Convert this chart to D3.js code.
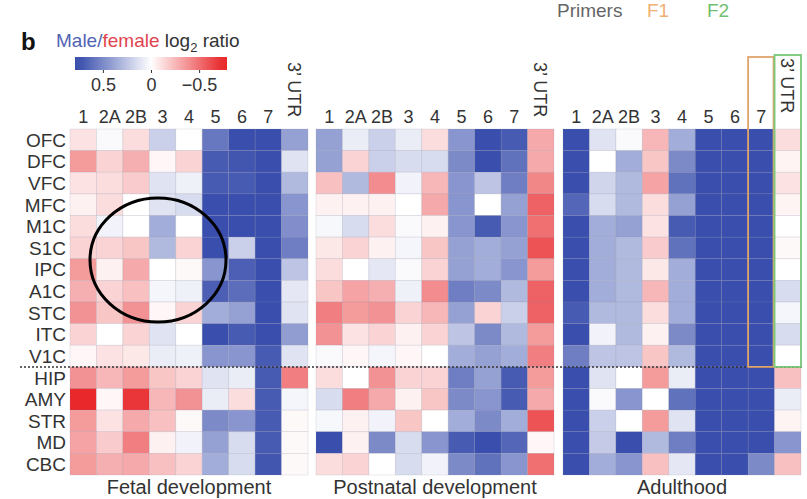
<!DOCTYPE html>
<html>
<head>
<meta charset="utf-8">
<script src="https://cdn.jsdelivr.net/npm/d3@7"></script>
<style>
  body { margin: 0; background: #fff; }
  svg { display: block; font-family: "Liberation Sans", Arial, sans-serif; }
  text { fill: #333; }
</style>
</head>
<body>
<svg id="chart"></svg>
<script>
// data: male/female log2 ratio, rows = regions, columns = exons
const regions = ["OFC", "DFC", "VFC", "MFC", "M1C", "S1C", "IPC", "A1C", "STC", "ITC", "V1C", "HIP", "AMY", "STR", "MD", "CBC"]
const columns = ["1", "2A", "2B", "3", "4", "5", "6", "7", "3’ UTR"]
const periods = ["Fetal development", "Postnatal development", "Adulthood"]

const fetal = [
  [-0.10, 0.02, -0.12, 0.20, 0.00, 0.58, 0.75, 0.80, 0.40],
  [-0.35, -0.15, -0.28, -0.03, -0.15, 0.70, 0.72, 0.80, 0.12],
  [-0.10, -0.12, -0.18, 0.12, 0.06, 0.70, 0.70, 0.80, 0.30],
  [-0.05, -0.12, 0.00, 0.12, 0.15, 0.75, 0.75, 0.80, 0.45],
  [-0.12, 0.05, 0.00, 0.35, 0.00, 0.75, 0.75, 0.80, 0.48],
  [-0.15, -0.15, -0.20, 0.30, -0.15, 0.80, 0.20, 0.80, 0.55],
  [-0.35, -0.05, -0.30, 0.00, -0.02, 0.45, 0.68, 0.75, 0.25],
  [-0.28, -0.15, -0.22, 0.04, 0.06, 0.68, 0.62, 0.75, 0.10],
  [-0.38, -0.20, -0.38, -0.03, -0.15, 0.35, 0.40, 0.75, 0.12],
  [-0.15, 0.00, -0.15, 0.12, 0.00, 0.75, 0.70, 0.75, 0.42],
  [-0.03, -0.10, -0.08, 0.08, 0.06, 0.45, 0.45, 0.70, 0.12],
  [-0.38, -0.25, -0.35, -0.20, -0.15, 0.12, 0.08, 0.70, -0.45],
  [-0.75, -0.03, -0.70, -0.25, -0.38, 0.08, -0.12, 0.70, 0.04],
  [-0.35, -0.10, -0.30, -0.22, -0.02, 0.50, 0.45, 0.70, -0.02],
  [-0.32, -0.18, -0.45, -0.05, 0.05, 0.40, 0.15, 0.70, -0.02],
  [-0.35, -0.28, -0.30, -0.22, -0.15, 0.35, 0.15, 0.72, -0.02]
]

const postnatal = [
  [0.40, 0.08, 0.20, 0.08, -0.12, 0.45, 0.75, 0.70, -0.30],
  [0.40, -0.15, 0.20, 0.15, 0.15, 0.50, 0.75, 0.60, -0.30],
  [-0.22, 0.30, -0.40, 0.05, -0.25, 0.45, 0.25, 0.55, -0.42],
  [-0.05, -0.05, -0.05, 0.00, -0.30, 0.45, 0.00, 0.40, -0.55],
  [0.03, 0.15, -0.12, 0.02, -0.05, 0.45, 0.70, 0.45, -0.50],
  [-0.08, -0.15, -0.05, 0.04, -0.20, 0.40, 0.35, 0.40, -0.60],
  [-0.12, 0.00, 0.10, 0.02, -0.15, 0.40, 0.35, 0.45, -0.35],
  [-0.20, -0.32, -0.28, 0.06, -0.40, 0.55, 0.50, 0.30, -0.55],
  [-0.45, -0.35, -0.38, -0.15, -0.25, 0.40, -0.15, 0.20, -0.55],
  [-0.38, -0.10, -0.15, -0.05, -0.15, 0.25, 0.50, 0.30, -0.35],
  [0.02, -0.03, 0.04, -0.03, 0.00, 0.35, 0.40, 0.35, -0.45],
  [-0.12, 0.00, -0.38, -0.15, -0.15, 0.55, 0.40, 0.70, -0.35],
  [0.15, -0.45, -0.30, -0.05, -0.20, 0.50, 0.45, 0.70, -0.30],
  [0.03, -0.05, 0.05, -0.20, 0.00, 0.35, 0.50, 0.35, -0.60],
  [0.75, -0.05, 0.50, 0.15, 0.45, 0.70, 0.75, 0.65, -0.03],
  [-0.12, -0.15, 0.00, 0.15, 0.05, 0.50, 0.60, 0.45, -0.50]
]

const adult = [
  [0.75, 0.12, 0.02, -0.25, 0.35, 0.80, 0.80, 0.80, -0.12],
  [0.75, 0.00, 0.35, -0.20, 0.50, 0.80, 0.80, 0.80, -0.04],
  [0.75, 0.18, 0.30, -0.32, 0.60, 0.80, 0.80, 0.80, -0.10],
  [0.65, 0.15, 0.30, -0.12, 0.40, 0.80, 0.80, 0.80, -0.04],
  [0.75, 0.35, 0.40, -0.10, 0.70, 0.80, 0.80, 0.80, 0.00],
  [0.75, 0.35, 0.30, -0.18, 0.60, 0.80, 0.80, 0.80, -0.02],
  [0.75, 0.35, 0.30, -0.08, 0.35, 0.80, 0.80, 0.80, 0.00],
  [0.75, 0.35, 0.30, -0.25, 0.35, 0.80, 0.80, 0.80, 0.15],
  [0.70, 0.30, 0.30, -0.12, 0.35, 0.80, 0.80, 0.80, 0.04],
  [0.75, 0.05, 0.30, -0.05, 0.50, 0.80, 0.80, 0.80, 0.15],
  [0.55, 0.25, 0.25, -0.20, 0.30, 0.80, 0.80, 0.80, 0.00],
  [0.80, 0.12, 0.00, -0.35, 0.08, 0.80, 0.80, 0.80, -0.22],
  [0.80, 0.02, 0.45, 0.00, 0.60, 0.80, 0.80, 0.80, 0.08],
  [0.80, 0.20, 0.00, -0.35, 0.12, 0.80, 0.80, 0.80, -0.04],
  [0.80, 0.22, 0.75, 0.30, 0.55, 0.80, 0.80, 0.80, 0.45],
  [0.80, 0.35, 0.45, -0.22, 0.10, 0.80, 0.80, 0.50, -0.22]
]

const legendTicks = [0.5, 0, -0.5]

// constants
const width = 807
const height = 499
const panelX = [70, 316, 563]
const panelW = 238
const gridTop = 129
const gridBottom = 475

const svg = d3.select('svg#chart').attr('width', width).attr('height', height)

const color = d3.scaleLinear()
  .domain([0.75, 0, -0.75])
  .range(["#3a4fad", "#ffffff", "#e8282b"])
  .clamp(true)

const y = d3.scaleBand().domain(regions).range([gridTop, gridBottom])

const allData = [fetal, postnatal, adult]

allData.forEach((mat, p) => {
  const x = d3.scaleBand().domain(columns).range([panelX[p], panelX[p] + panelW])
  const g = svg.append('g').attr('class', 'panel')

  const cells = []
  mat.forEach((row, i) => row.forEach((v, j) => cells.push({ r: regions[i], c: columns[j], v: v })))

  g.selectAll('rect').data(cells).enter().append('rect')
    .attr('x', d => x(d.c))
    .attr('y', d => y(d.r))
    .attr('width', x.bandwidth())
    .attr('height', y.bandwidth())
    .attr('fill', d => color(d.v))
    .attr('stroke', 'rgba(140,140,160,0.25)')
    .attr('stroke-width', 0.7)

  // column labels
  g.selectAll('text.col').data(columns.slice(0, 8)).enter().append('text')
    .attr('class', 'col')
    .attr('x', d => x(d) + x.bandwidth() / 2)
    .attr('y', 123)
    .attr('text-anchor', 'middle')
    .style('font-size', '18px')
    .text(d => d)

  // 3' UTR rotated
  const ux = x(columns[8]) + x.bandwidth() / 2 - 6.5
  g.append('text')
    .attr('transform', 'translate(' + ux + ',' + (p == 2 ? 58 : 62) + ') rotate(90)')
    .style('font-size', '18px')
    .text(columns[8])

  g.append('text')
    .attr('x', panelX[p] + panelW / 2)
    .attr('y', 494)
    .attr('text-anchor', 'middle')
    .style('font-size', '20px')
    .text(periods[p])
})

// row labels
svg.selectAll('text.row').data(regions).enter().append('text')
  .attr('class', 'row')
  .attr('x', 66)
  .attr('y', d => y(d) + y.bandwidth() / 2)
  .attr('dy', '0.36em')
  .attr('text-anchor', 'end')
  .style('font-size', '19px')
  .text(d => d)

// dotted separator between cortical and other regions
svg.append('line')
  .attr('x1', 20).attr('x2', 802)
  .attr('y1', y('HIP')).attr('y2', y('HIP'))
  .attr('stroke', '#333').attr('stroke-width', 1.5)
  .attr('stroke-dasharray', '2,2')

// primer boxes on adult panel
const xa = d3.scaleBand().domain(columns).range([panelX[2], panelX[2] + panelW])
svg.append('rect')
  .attr('x', xa("7")).attr('y', 57)
  .attr('width', xa.bandwidth() - 1).attr('height', y('HIP') - 57)
  .attr('fill', 'none').attr('stroke', '#e0a36a').attr('stroke-width', 1.8)
svg.append('rect')
  .attr('x', xa(columns[8])).attr('y', 55)
  .attr('width', xa.bandwidth()).attr('height', y('HIP') - 55)
  .attr('fill', 'none').attr('stroke', '#78c878').attr('stroke-width', 1.8)

// primers header
const prim = svg.append('text').attr('x', 557).attr('y', 17).style('font-size', '19px')
prim.append('tspan').style('fill', '#666').text('Primers')
prim.append('tspan').attr('x', 647).style('fill', '#f0b070').text('F1')
prim.append('tspan').attr('x', 707).style('fill', '#70c070').text('F2')

// panel letter
svg.append('text').attr('x', 21).attr('y', 50)
  .style('font-size', '24px').style('font-weight', 'bold').style('fill', '#111')
  .text('b')

// legend title
const title = svg.append('text').attr('x', 56).attr('y', 47).style('font-size', '19px')
title.append('tspan').style('fill', '#5064b4').text('Male/')
title.append('tspan').style('fill', '#e0444e').text('female')
title.append('tspan').text(' log')
title.append('tspan').attr('dy', 5).style('font-size', '13px').text('2')
title.append('tspan').attr('dy', -5).text(' ratio')

// legend colour bar
const lx = d3.scaleLinear().domain([0.79, -0.79]).range([75, 227])
const grad = svg.append('defs').append('linearGradient').attr('id', 'lg')
d3.range(0, 1.0001, 0.05).forEach(t => {
  grad.append('stop').attr('offset', t).attr('stop-color', color(lx.invert(75 + t * 152)))
})
svg.append('rect').attr('x', 75).attr('y', 57).attr('width', 152).attr('height', 13)
  .attr('fill', 'url(#lg)')

const legAxis = d3.axisBottom(lx).tickValues(legendTicks).tickSize(3).tickFormat(d3.format('.1'))
const la = svg.append('g').attr('transform', 'translate(0,70)').call(legAxis)
la.select('.domain').remove()
la.selectAll('line').attr('stroke', '#333')
la.selectAll('text').style('font-size', '18px').attr('y', 8).attr('fill', '#333')
  .style('font-family', '"Liberation Sans", Arial, sans-serif')

// highlight circle
svg.append('ellipse')
  .attr('cx', 158).attr('cy', 260).attr('rx', 68).attr('ry', 62)
  .attr('fill', 'none').attr('stroke', '#000').attr('stroke-width', 3)
</script>
</body>
</html>
